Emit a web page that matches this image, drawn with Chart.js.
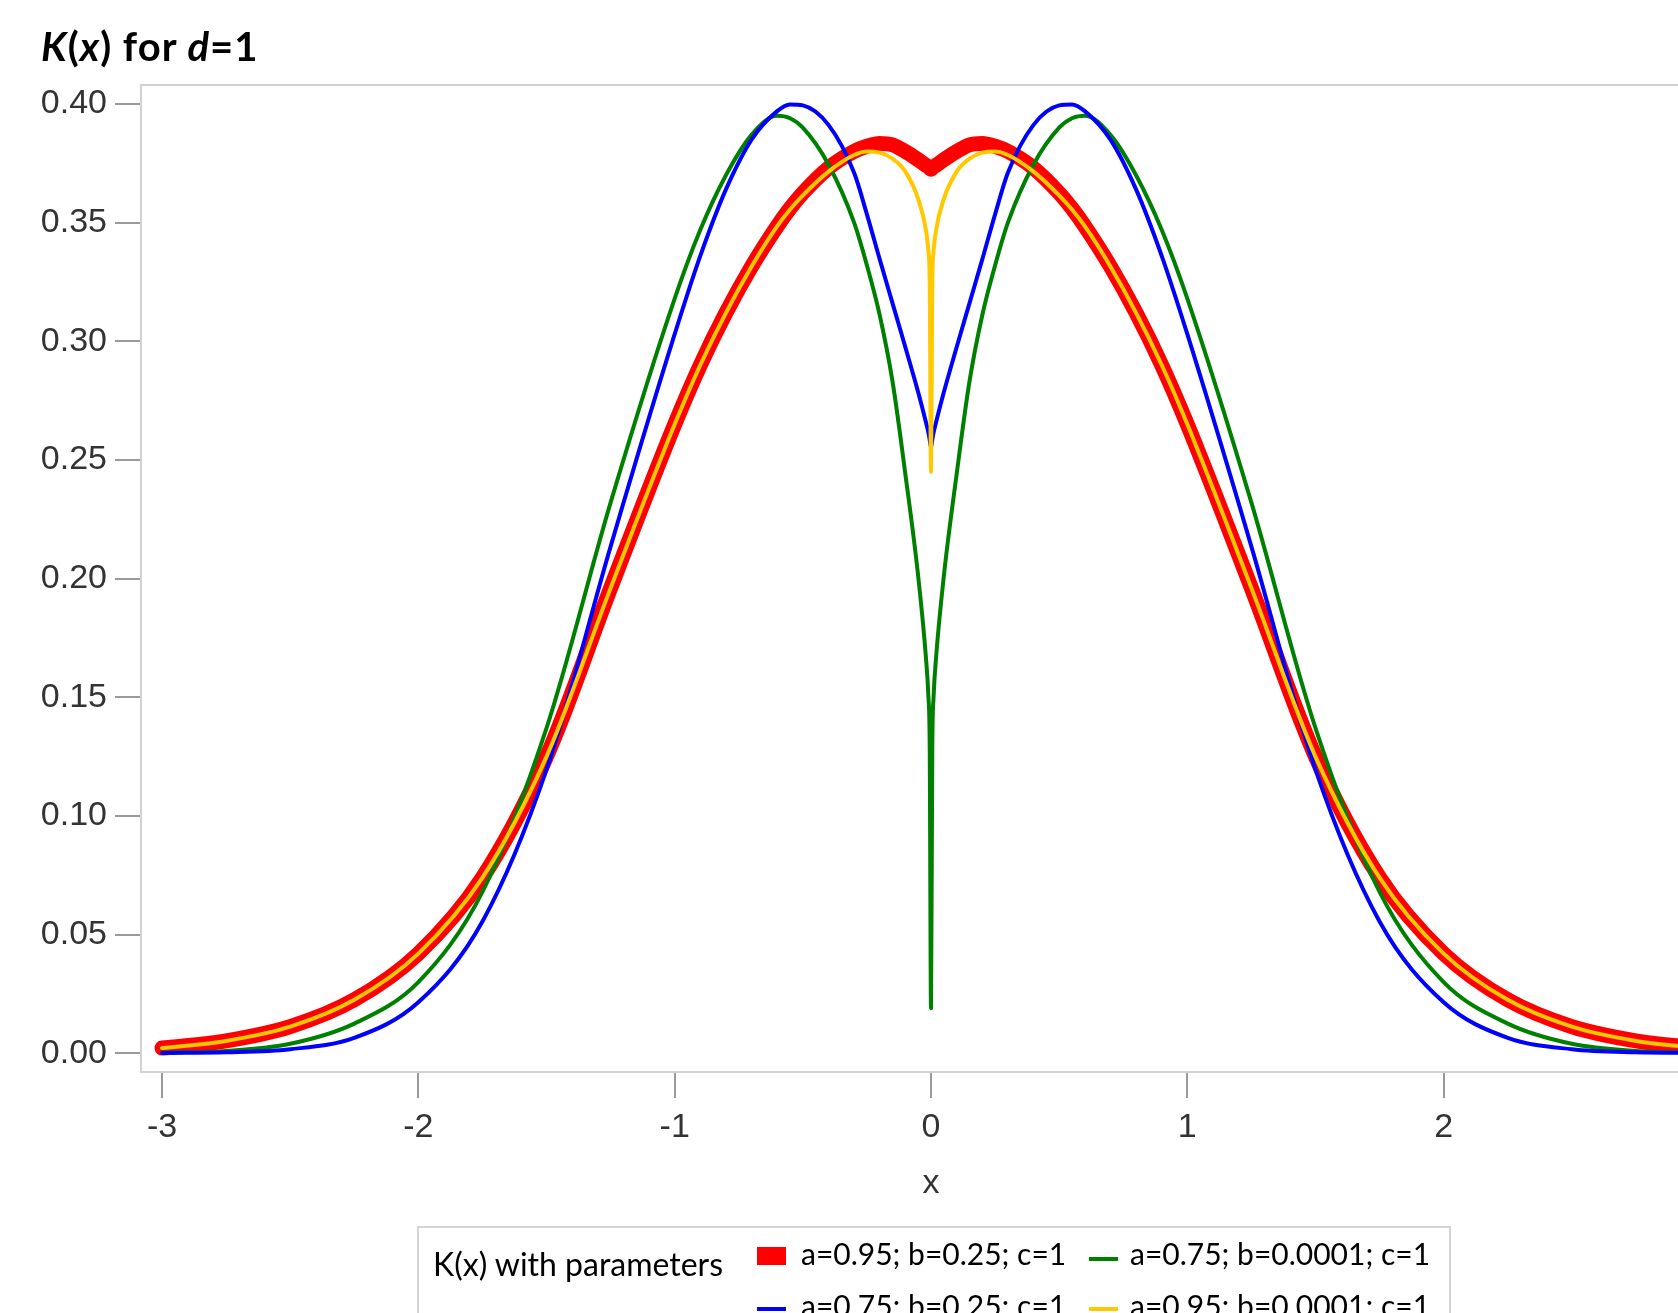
<!DOCTYPE html>
<html>
<head>
<meta charset="utf-8">
<title>K(x) for d=1</title>
<script src="https://cdn.jsdelivr.net/npm/chart.js@4.4.1/dist/chart.umd.min.js"></script>
<style>
  html, body { margin: 0; padding: 0; background: #fff; overflow: hidden; }
  #wrap { position: relative; width: 1678px; height: 1313px; overflow: hidden; }
  #kx { position: absolute; left: 0; top: 0; }
  #title { position: absolute; left: 41px; top: 26px; font: bold 40px/40px Lato, sans-serif; letter-spacing: 1px; color: #000; white-space: nowrap; }
  #legend { position: absolute; left: 417px; top: 1226px; width: 1034px; height: 200px; border: 2px solid #d4d4d4; box-sizing: border-box; }
  .lg-text { position: absolute; font: 30px/30px Lato, sans-serif; color: #000; white-space: nowrap; }
  .lg-head { font-size: 32px; line-height: 32px; }
  .lg-mark { position: absolute; width: 29px; }
</style>
</head>
<body>
<div id="wrap">
  <canvas id="kx" width="1760" height="1400"></canvas>
  <div id="title"><i>K</i>(<i>x</i>) for <i>d</i>=1</div>
  <div id="legend"></div>
</div>
<script>
const xValues = [-3, -2.75, -2.5, -2.25, -2, -1.75, -1.5, -1.25, -1, -0.9, -0.8, -0.7, -0.6, -0.55, -0.5, -0.4, -0.3, -0.25, -0.2, -0.15, -0.1, -0.05, -0.02, -0.01, -0.005,
	0,
	0.005, 0.01, 0.02, 0.05, 0.1, 0.15, 0.2, 0.25, 0.3, 0.4, 0.5, 0.55, 0.6, 0.7, 0.8, 0.9, 1, 1.25, 1.5, 1.75, 2, 2.25, 2.5, 2.75, 3];

// a=0.95; b=0.25; c=1
const redValues = [0.0022, 0.0052, 0.0112, 0.0225, 0.042, 0.074, 0.125, 0.196, 0.265, 0.29, 0.312, 0.3315, 0.3485, 0.356, 0.3625, 0.373, 0.38, 0.3822, 0.3834, 0.3828, 0.38, 0.3765, 0.3742, 0.3735, 0.373,
	0.3725,
	0.373, 0.3735, 0.3742, 0.3765, 0.38, 0.3828, 0.3834, 0.3822, 0.38, 0.373, 0.3625, 0.356, 0.3485, 0.3315, 0.312, 0.29, 0.265, 0.196, 0.125, 0.074, 0.042, 0.0225, 0.0112, 0.0052, 0.0022];

// a=0.75; b=0.0001; c=1
const greenValues = [0.0002, 0.001, 0.004, 0.0125, 0.03, 0.068, 0.137, 0.232, 0.318, 0.347, 0.37, 0.387, 0.395, 0.394, 0.39, 0.3745, 0.35, 0.332, 0.311, 0.283, 0.244, 0.201, 0.167, 0.15, 0.129,
	0.019,
	0.129, 0.15, 0.167, 0.201, 0.244, 0.283, 0.311, 0.332, 0.35, 0.3745, 0.39, 0.394, 0.395, 0.387, 0.37, 0.347, 0.318, 0.232, 0.137, 0.068, 0.03, 0.0125, 0.004, 0.001, 0.0002];

// a=0.75; b=0.25; c=1
const blueValues = [0.0001, 0.0004, 0.0017, 0.0065, 0.0215, 0.0555, 0.1195, 0.2135, 0.303, 0.336, 0.364, 0.385, 0.397, 0.3998, 0.3994, 0.3912, 0.371, 0.3535, 0.3345, 0.316, 0.2975, 0.2785, 0.266, 0.2615, 0.2585,
	0.2553,
	0.2585, 0.2615, 0.266, 0.2785, 0.2975, 0.316, 0.3345, 0.3535, 0.371, 0.3912, 0.3994, 0.3998, 0.397, 0.385, 0.364, 0.336, 0.303, 0.2135, 0.1195, 0.0555, 0.0215, 0.0065, 0.0017, 0.0004, 0.0001];

// a=0.95; b=0.0001; c=1
const yellowValues = [0.0022, 0.0052, 0.0112, 0.0225, 0.042, 0.074, 0.125, 0.196, 0.265, 0.29, 0.312, 0.3315, 0.3485, 0.3555, 0.3615, 0.3715, 0.3785, 0.38, 0.3795, 0.377, 0.3715, 0.36, 0.347, 0.338, 0.325,
	0.245,
	0.325, 0.338, 0.347, 0.36, 0.3715, 0.377, 0.3795, 0.38, 0.3785, 0.3715, 0.3615, 0.3555, 0.3485, 0.3315, 0.312, 0.29, 0.265, 0.196, 0.125, 0.074, 0.042, 0.0225, 0.0112, 0.0052, 0.0022];

const xTicks = [-3, -2, -1, 0, 1, 2, 3];
const yTicks = [0, 0.05, 0.1, 0.15, 0.2, 0.25, 0.3, 0.35, 0.4];

const seriesLabels = ["a=0.95; b=0.25; c=1", "a=0.75; b=0.0001; c=1", "a=0.75; b=0.25; c=1", "a=0.95; b=0.0001; c=1"];
const seriesColors = ["#ff0000", "#008000", "#0000ff", "#ffc800"];

function series(values, i, width, order) {
	return {
		label: seriesLabels[i],
		data: xValues.map((x, j) => ({ x: x, y: values[j] })),
		borderColor: seriesColors[i],
		backgroundColor: seriesColors[i],
		borderWidth: width,
		order: order,
		pointRadius: 0,
		fill: false,
		cubicInterpolationMode: "monotone",
		borderCapStyle: "round",
		borderJoinStyle: "round",
	};
}

// grey box round the plot area
const frame = {
	id: "frame",
	beforeDatasetsDraw(chart) {
		const { ctx, chartArea: a } = chart;
		ctx.save();
		ctx.strokeStyle = "#d2d2d2";
		ctx.lineWidth = 2;
		ctx.strokeRect(a.left, a.top, a.right - a.left, a.bottom - a.top);
		ctx.restore();
	},
};

const tickFont = { family: "'Liberation Sans', Arial, sans-serif", size: 34 };

const kxChart = new Chart(document.getElementById("kx"), {
	type: "line",
	data: {
		datasets: [
			series(redValues, 0, 15, 4),
			series(greenValues, 1, 4, 3),
			series(blueValues, 2, 4, 2),
			series(yellowValues, 3, 4, 1),
		],
	},
	options: {
		responsive: false,
		animation: false,
		layout: { padding: { left: 0, top: 85, right: 39, bottom: 0 } },
		plugins: {
			legend: { display: false },
			tooltip: { enabled: false },
		},
		scales: {
			x: {
				type: "linear",
				min: -3.082,
				max: 3.082,
				afterBuildTicks: (s) => { s.ticks = xTicks.map((v) => ({ value: v })); },
				afterFit: (s) => { s.height = 328; },
				grid: { drawOnChartArea: false, drawTicks: true, tickLength: 26, color: "#9a9a9a", lineWidth: 2 },
				border: { display: false },
				ticks: {
					padding: 9,
					color: "#333",
					font: tickFont,
					maxRotation: 0,
					autoSkip: false,
					callback: (v) => String(v),
				},
				title: {
					display: true,
					text: "x",
					color: "#333",
					font: tickFont,
					padding: { top: 0, bottom: 196 },
				},
			},
			y: {
				type: "linear",
				min: -0.0079,
				max: 0.408,
				afterBuildTicks: (s) => { s.ticks = yTicks.map((v) => ({ value: v })); },
				afterFit: (s) => { s.width = 141; },
				grid: { drawOnChartArea: false, drawTicks: true, tickLength: 26, color: "#9a9a9a", lineWidth: 2 },
				border: { display: false },
				ticks: {
					padding: 8,
					color: "#333",
					font: tickFont,
					callback: (v) => v.toFixed(2),
				},
			},
		},
	},
	plugins: [frame],
});

// legend below the plot, two columns
const legendEl = document.getElementById("legend");
const head = document.createElement("div");
head.className = "lg-text lg-head";
head.textContent = "K(x) with parameters";
head.style.left = "14px";
head.style.top = "20px";
legendEl.appendChild(head);

const colMark = [338, 670];
const colText = [382, 711];
const rowText = [10, 62];
const rowMid = [31, 81];

seriesLabels.forEach((label, i) => {
	const col = i % 2;
	const row = Math.floor(i / 2);
	const mark = document.createElement("div");
	mark.className = "lg-mark";
	const h = i === 0 ? 18 : 4;
	mark.style.height = h + "px";
	mark.style.left = colMark[col] + "px";
	mark.style.top = (rowMid[row] - (i === 0 ? 12 : 2)) + "px";
	mark.style.background = seriesColors[i];
	legendEl.appendChild(mark);

	const txt = document.createElement("div");
	txt.className = "lg-text";
	txt.textContent = label;
	txt.style.left = colText[col] + "px";
	txt.style.top = rowText[row] + "px";
	legendEl.appendChild(txt);
});
</script>
</body>
</html>
